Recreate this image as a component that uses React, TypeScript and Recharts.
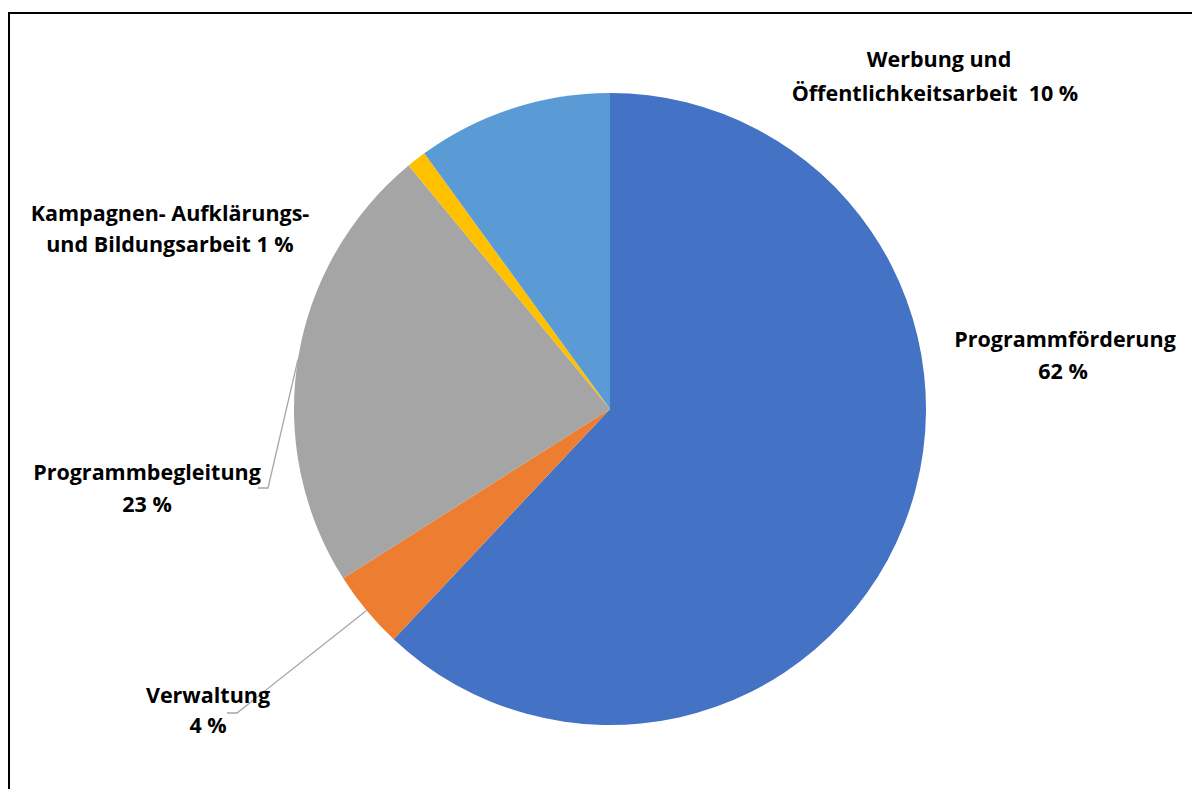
import React from "react";
import { PieChart, Pie, Cell } from "recharts";

const categories = [
  "Programmförderung",
  "Verwaltung",
  "Programmbegleitung",
  "Kampagnen- Aufklärungs- und Bildungsarbeit",
  "Werbung und Öffentlichkeitsarbeit",
];
const shares = [62, 4, 23, 1, 10];
const colors = ["#4472C4", "#ED7D31", "#A5A5A5", "#FFC000", "#5B9BD5"];

const data = categories.map((name, i) => ({ name, value: shares[i] }));

// label text lines
const labelLines = [
  ["Programmförderung", "62 %"],
  ["Verwaltung", "4 %"],
  ["Programmbegleitung", "23 %"],
  ["Kampagnen- Aufklärungs-", "und Bildungsarbeit 1 %"],
  ["Werbung und", "Öffentlichkeitsarbeit  10 %"],
];

// layout of labels: per line center x and baseline y, plus leader line elbow
const labelLayout = [
  { xs: [1065, 1063], ys: [347, 379], elbow: null },
  { xs: [208, 208], ys: [703, 733], elbow: [[237, 713], [227, 713]] },
  { xs: [147, 147], ys: [480, 512], elbow: [[268, 488], [258, 488]] },
  { xs: [170, 170], ys: [221, 252], elbow: null },
  { xs: [939, 935], ys: [67, 101], elbow: null },
];

const RAD = Math.PI / 180;

function renderLabel(props: any) {
  const { cx, cy, midAngle, outerRadius, index } = props;
  const lay = labelLayout[index];
  const lines = labelLines[index];
  let leader = null;
  if (lay.elbow) {
    const sx = cx + outerRadius * Math.cos(-midAngle * RAD);
    const sy = cy + outerRadius * Math.sin(-midAngle * RAD);
    const pts = [[sx, sy], ...lay.elbow].map((p) => p.join(",")).join(" ");
    leader = <polyline points={pts} fill="none" stroke="#A6A6A6" strokeWidth={1.3} />;
  }
  return (
    <g key={"lbl" + index}>
      {leader}
      {lines.map((t, j) => (
        <text
          key={j}
          x={lay.xs[j]}
          y={lay.ys[j]}
          textAnchor="middle"
          fill="#000"
          fontFamily="'Open Sans', sans-serif"
          fontWeight="bold"
          fontSize={21.5}
          style={{ whiteSpace: "pre" }}
        >
          {t}
        </text>
      ))}
    </g>
  );
}

export default function App() {
  return (
    <div style={{ position: "relative", width: 1200, height: 797, margin: -8, overflow: "hidden", background: "#fff" }}>
      <div
        style={{
          position: "absolute",
          left: 8,
          top: 12,
          width: 1220,
          height: 820,
          border: "2.5px solid #000",
          boxSizing: "border-box",
        }}
      />
      <div style={{ position: "absolute", left: 0, top: 0 }}>
        <PieChart width={1200} height={797} margin={{ top: 0, right: 0, bottom: 0, left: 0 }}>
          <Pie
            data={data}
            dataKey="value"
            nameKey="name"
            cx={610}
            cy={409}
            outerRadius={316}
            startAngle={90}
            endAngle={-270}
            stroke="none"
            label={renderLabel}
            labelLine={false}
            isAnimationActive={false}
          >
            {data.map((d, i) => (
              <Cell key={d.name} fill={colors[i]} />
            ))}
          </Pie>
        </PieChart>
      </div>
    </div>
  );
}
